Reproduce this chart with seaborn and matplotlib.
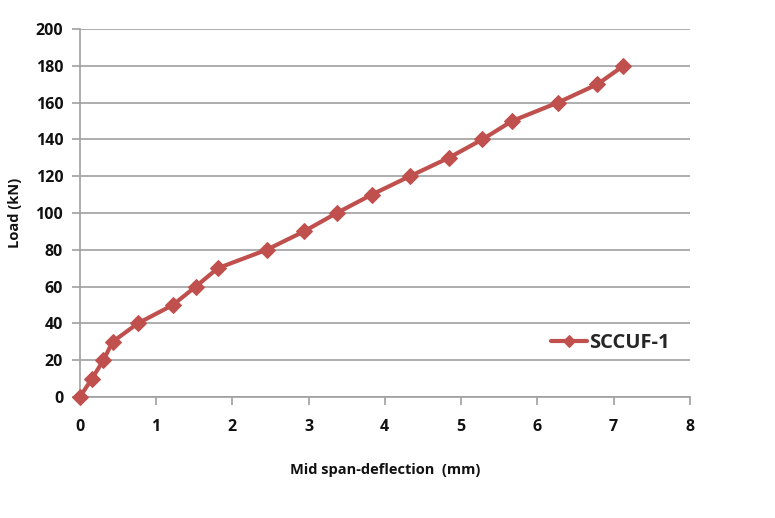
import matplotlib
matplotlib.use("Agg")
import matplotlib.pyplot as plt
import pandas as pd
import seaborn as sns

# Valores
deflexao = [0.0, 0.16, 0.31, 0.43, 0.76, 1.22, 1.52, 1.81, 2.45, 2.94,
            3.37, 3.83, 4.33, 4.84, 5.28, 5.67, 6.27, 6.79, 7.13]
carga = [0, 10, 20, 30, 40, 50, 60, 70, 80, 90,
         100, 110, 120, 130, 140, 150, 160, 170, 180]
serie = "SCCUF-1"

df = pd.DataFrame({"Deflexao": deflexao, "Carga": carga})

sns.set_theme(style="white")
plt.rcParams["font.family"] = ["Open Sans", "DejaVu Sans"]

fig = plt.figure(figsize=(7.75, 5.18), dpi=100)
ax = fig.add_axes([0.103, 0.2336, 0.787, 0.7104])

sns.lineplot(data=df, x="Deflexao", y="Carga", color="#C0504D", linewidth=3,
             marker="D", markersize=8, markeredgecolor="#C0504D",
             label=serie, ax=ax, sort=False, clip_on=False, zorder=5)

ax.set_xlim(0, 8)
ax.set_ylim(0, 200)
ax.set_xticks(range(0, 9))
ax.set_yticks(range(0, 201, 20))
ax.yaxis.grid(True, color="#A0A0A0", linewidth=1.2)
ax.xaxis.grid(False)
for s in ["top", "right"]:
    ax.spines[s].set_visible(False)
for s in ["left", "bottom"]:
    ax.spines[s].set_color("#A0A0A0")
    ax.spines[s].set_linewidth(1.2)
ax.tick_params(axis="both", which="both", direction="out", length=6, width=1.2,
               color="#A0A0A0", labelsize=11.5, pad=6, labelcolor="#111111")
ax.tick_params(axis="y", left=True)
ax.tick_params(axis="x", bottom=True, pad=10)
for lbl in ax.get_xticklabels() + ax.get_yticklabels():
    lbl.set_fontweight("bold")

ax.set_xlabel("Mid span-deflection  (mm)", fontsize=10.5, fontweight="bold",
              labelpad=20, color="#111111")
ax.set_ylabel("Load (kN)", fontsize=10.5, fontweight="bold", labelpad=10,
              color="#111111")

leg = ax.legend(loc="center left", bbox_to_anchor=(0.743, 0.147), frameon=False,
                fontsize=14.5, handlelength=1.8, handletextpad=0.1,
                markerscale=0.8)
for t in leg.get_texts():
    t.set_fontweight("bold")

fig.savefig("out.png", dpi=100)
